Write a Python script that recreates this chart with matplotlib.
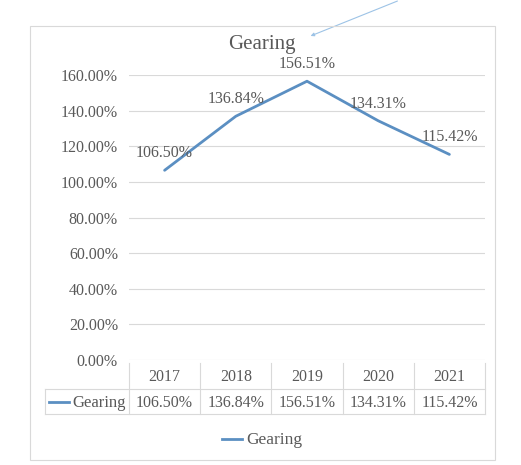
import matplotlib
matplotlib.use("Agg")
import matplotlib.pyplot as plt
from matplotlib.lines import Line2D
from matplotlib.patches import Rectangle
import matplotlib.transforms as mtransforms

years = ["2017", "2018", "2019", "2020", "2021"]
gearing = [106.50, 136.84, 156.51, 134.31, 115.42]
yticks = [0, 20, 40, 60, 80, 100, 120, 140, 160]
series_name = "Gearing"
title = "Gearing"

W, H = 521, 465
fig = plt.figure(figsize=(W / 100, H / 100), dpi=100)
plt.rcParams['font.family'] = ['Liberation Serif', 'DejaVu Serif']

TXT = "#595959"
GRID = "#d9d9d9"
LINE = "#5b8fc2"
FS = 11.5
FSW = 12

def fx(px):
    return px / W

def fy(py):
    return 1 - py / H

# outer chart border
fig.patches.append(Rectangle((fx(30), fy(460)), fx(495) - fx(30), fy(26) - fy(460),
                             transform=fig.transFigure, fill=False, edgecolor=GRID, lw=0.8))

# plot area
ax_l, ax_r, ax_t, ax_b = 129, 485, 75, 360
ax = fig.add_axes([fx(ax_l), fy(ax_b), fx(ax_r) - fx(ax_l), fy(ax_t) - fy(ax_b)])
x = list(range(len(years)))
ax.plot(x, gearing, color=LINE, lw=2, solid_capstyle='round')
ax.set_xlim(-0.5, len(years) - 0.5)
ax.set_ylim(0, 160)
ax.set_yticks(yticks)
ax.set_yticklabels([f"{v:.2f}%" for v in yticks], color=TXT, fontsize=FS)
ax.tick_params(axis='y', length=0, pad=8)
ax.set_xticks([])
for s in ax.spines.values():
    s.set_visible(False)
ax.grid(axis='y', color=GRID, lw=0.8)
ax.set_axisbelow(True)
ax.set_facecolor('none')

for xi, v in zip(x, gearing):
    ax.annotate(f"{v:.2f}%", (xi, v), xytext=(0, 17), textcoords='offset pixels',
                ha='center', va='center', fontsize=FS, color=TXT)

# title
fig.text(fx(262), fy(45), title, ha='center', va='center', fontsize=15, color=TXT)

# data table
trans = mtransforms.blended_transform_factory(ax.transData, fig.transFigure)
row_top, row_mid, row_bot = 363, 389, 414
left_px = 45
n = len(years)
for b in range(n + 1):
    xb = b - 0.5
    ax.add_line(Line2D([xb, xb], [fy(row_top), fy(row_bot)], transform=trans,
                       color=GRID, lw=0.8, clip_on=False))
fig.add_artist(Line2D([fx(left_px), fx(left_px)], [fy(row_mid), fy(row_bot)],
                      color=GRID, lw=0.8))
for yy in (row_mid, row_bot):
    fig.add_artist(Line2D([fx(left_px), fx(ax_r)], [fy(yy), fy(yy)], color=GRID, lw=0.8))
for xi, yr, v in zip(x, years, gearing):
    ax.text(xi, fy((row_top + row_mid) / 2 + 1), yr, transform=trans, ha='center',
            va='center', fontsize=FS, color=TXT, clip_on=False)
    ax.text(xi, fy((row_mid + row_bot) / 2 + 1), f"{v:.2f}%", transform=trans,
            ha='center', va='center', fontsize=FS, color=TXT, clip_on=False)
ky = (row_mid + row_bot) / 2
fig.add_artist(Line2D([fx(49), fx(69)], [fy(ky), fy(ky)], color=LINE, lw=2))
fig.text(fx(72), fy(ky + 1), series_name, ha='left', va='center', fontsize=FSW, color=TXT)

# bottom legend
ly = 439
fig.add_artist(Line2D([fx(222), fx(242)], [fy(ly), fy(ly)], color=LINE, lw=2))
fig.text(fx(246), fy(ly + 1), series_name, ha='left', va='center', fontsize=12.5, color=TXT)

# stray arrow
fig.add_artist(matplotlib.patches.FancyArrowPatch(
    (fx(400), fy(0)), (fx(308), fy(37)), transform=fig.transFigure,
    arrowstyle='-|>', mutation_scale=5, color="#9dc3e6", lw=0.8))

fig.savefig("out.png", dpi=100, facecolor='white')
